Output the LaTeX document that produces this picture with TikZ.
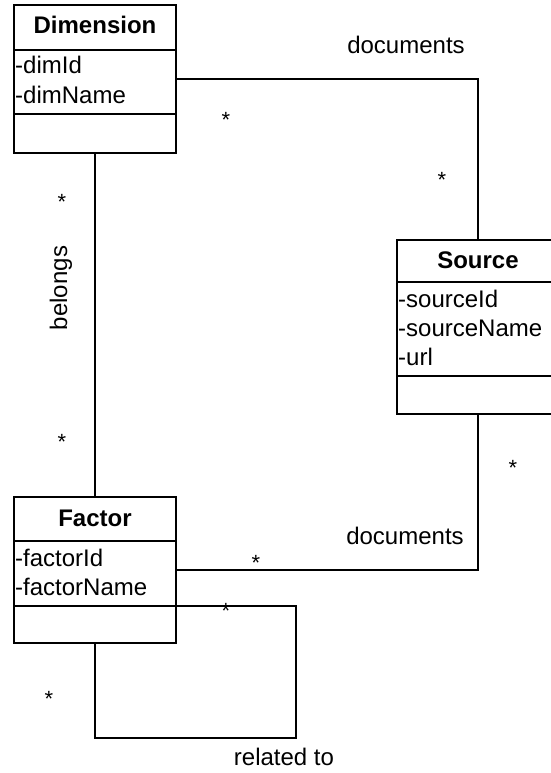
\documentclass[tikz,border=0pt]{standalone}
\usepackage{fontspec}
\setmainfont{Liberation Sans}
\begin{document}
\begin{tikzpicture}[x=1pt,y=-1pt,
  classbox/.style={draw,line width=1.4pt,inner sep=0pt,minimum width=162pt},
  sep/.style={line width=1.4pt},
  conn/.style={line width=1.4pt},
  title/.style={font=\fontsize{24}{28}\selectfont\bfseries,anchor=base,inner sep=0pt},
  attr/.style={font=\fontsize{24}{28}\selectfont,anchor=base west,inner sep=0pt},
  lbl/.style={font=\fontsize{24}{28}\selectfont,inner sep=0pt},
  mult/.style={font=\fontsize{22}{26}\selectfont,anchor=base,inner sep=0pt,yshift=-12.5pt}]
\useasboundingbox (0,0) rectangle (550,773);
% class boxes
\node[classbox,minimum height=148pt] (dim) at (95,79) {};
\node[classbox,minimum height=174pt,minimum width=172pt] (src) at (483,327) {};
\node[classbox,minimum height=146pt] (fac) at (95,570) {};
% separators
\draw[sep] (dim.west |- 0,50) -- (dim.east |- 0,50);
\draw[sep] (dim.west |- 0,114) -- (dim.east |- 0,114);
\draw[sep] (src.west |- 0,282) -- (src.east |- 0,282);
\draw[sep] (src.west |- 0,376) -- (src.east |- 0,376);
\draw[sep] (fac.west |- 0,541) -- (fac.east |- 0,541);
\draw[sep] (fac.west |- 0,606) -- (fac.east |- 0,606);
% texts
\node[title] (dimT) at (95,34) {Dimension};
\node[attr] (dimA1) at (15,74) {-dimId};
\node[attr] (dimA2) at (15,103) {-dimName};
\node[title] (srcT) at (478,268) {Source};
\node[attr] (srcA1) at (398,307) {-sourceId};
\node[attr] (srcA2) at (398,336) {-sourceName};
\node[attr] (srcA3) at (398,365) {-url};
\node[title] (facT) at (95,526) {Factor};
\node[attr] (facA1) at (15,566) {-factorId};
\node[attr] (facA2) at (15,595) {-factorName};
% connectors
\draw[conn] (dim.east) -| ([xshift=-5pt]src.north);
\draw[conn] (fac.east) -| ([xshift=-5pt]src.south);
\draw[conn] (dim.south) -- (fac.north);
\coordinate (loopA) at (296,606);
\coordinate (loopB) at (296,738);
\draw[conn] (fac.east |- loopA) -- (loopA) -- (loopB) -| (fac.south);
% labels
\node[lbl] (l1) at (406,45) {documents};
\node[lbl] (l2) at (405,536) {documents};
\node[lbl] (l3) at (284,757) {related to};
\node[lbl,rotate=90] (l4) at (61,288) {belongs};
% multiplicities
\node[mult] (m1) at (226,115) {*};
\node[mult] (m2) at (442,175) {*};
\node[mult] (m3) at (62,197) {*};
\node[mult] (m4) at (62,437) {*};
\node[mult] (m5) at (513,463) {*};
\node[mult] (m6) at (256,558) {*};
\node[mult] (m7) at (226,606) {*};
\node[mult] (m8) at (49,694) {*};
\end{tikzpicture}
\end{document}
